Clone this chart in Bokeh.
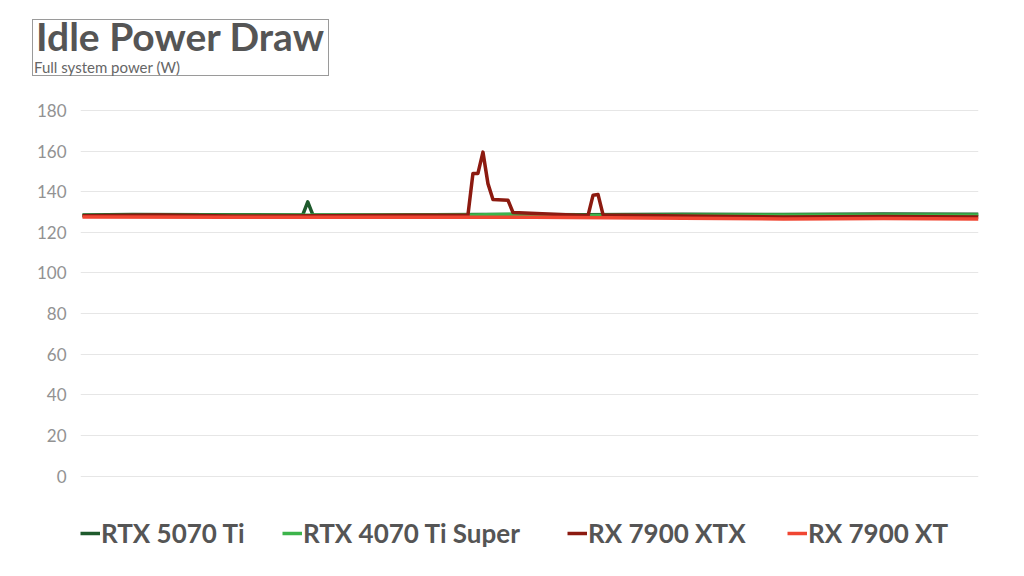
from bokeh.plotting import figure
from bokeh.models import Range1d, Legend, LegendItem, FixedTicker, Div
from bokeh.layouts import column
from bokeh.embed import file_html
from bokeh.resources import INLINE

# ---- data (sample index, watts) ----
series_names = ["RTX 5070 Ti", "RTX 4070 Ti Super", "RX 7900 XTX", "RX 7900 XT"]
series_colors = ["#1e5a2c", "#3cb44b", "#8c1a10", "#f04632"]

rtx5070ti_t = [0, 10, 25, 44, 45, 46, 60, 80, 100, 120, 140, 160, 179]
rtx5070ti_w = [128.6, 128.8, 128.7, 128.6, 135.0, 128.7, 128.6, 128.8, 128.7, 128.9, 128.8, 129.0, 128.9]

rtx4070tis_t = [0, 40, 78, 86, 100, 130, 179]
rtx4070tis_w = [128.3, 128.4, 128.6, 128.9, 128.3, 128.5, 128.6]

rx7900xtx_t = [0, 15, 30, 50, 65, 77, 78, 79, 80, 81, 82, 85, 86, 100, 101, 102, 103, 104, 120, 140, 160, 179]
rx7900xtx_w = [128.2, 128.5, 128.0, 128.2, 128.4, 128.4, 149.0, 149.0, 159.5, 144.0, 136.2, 135.8, 129.8,
               128.3, 128.3, 138.3, 138.6, 128.6, 128.0, 127.6, 127.8, 127.6]

rx7900xt_t = [0, 30, 60, 90, 120, 140, 160, 179]
rx7900xt_w = [127.6, 127.4, 127.5, 127.4, 127.0, 126.6, 126.8, 126.6]

y_ticks = [0, 20, 40, 60, 80, 100, 120, 140, 160, 180]

title_text = "Idle Power Draw"
subtitle_text = "Full system power (W)"

W = 1024

# ---- title block (HTML text) ----
title_html = (
    '<div style="position:relative;width:1024px;height:90px;background:white;">'
    '<div style="position:absolute;left:32px;top:19px;width:297px;height:57px;'
    'border:1px solid #9a9a9a;"></div>'
    '<div style="position:absolute;left:36px;top:17px;font-family:Lato;font-weight:bold;'
    'font-size:39px;line-height:39px;color:#555555;white-space:nowrap;">' + title_text + '</div>'
    '<div style="position:absolute;left:34px;top:60px;font-family:Lato;'
    'font-size:15px;line-height:15px;color:#666666;white-space:nowrap;">' + subtitle_text + '</div>'
    '</div>'
)
title_div = Div(text=title_html, width=W, height=90, margin=0)

# ---- main chart ----
p = figure(width=W, height=486, output_backend="svg", toolbar_location=None,
           x_range=Range1d(-0.4, 179), y_range=Range1d(-46.5, 184.93),
           min_border_left=80, min_border_right=46, min_border_top=10, min_border_bottom=6,
           margin=0)
p.outline_line_color = None
p.background_fill_color = "white"
p.border_fill_color = "white"
p.xaxis.visible = False
p.xgrid.visible = False
p.ygrid.grid_line_color = "#e6e6e6"
p.ygrid.grid_line_width = 1
p.yaxis.ticker = FixedTicker(ticks=y_ticks)
p.yaxis.axis_line_color = None
p.yaxis.major_tick_line_color = None
p.yaxis.minor_tick_line_color = None
p.yaxis.major_tick_out = 0
p.yaxis.major_tick_in = 0
p.yaxis.major_label_standoff = 14
p.yaxis.major_label_text_font = "Lato"
p.yaxis.major_label_text_font_size = "17px"
p.yaxis.major_label_text_color = "#929292"

data = [(rtx5070ti_t, rtx5070ti_w), (rtx4070tis_t, rtx4070tis_w),
        (rx7900xtx_t, rx7900xtx_w), (rx7900xt_t, rx7900xt_w)]
renderers = []
for (t, w), c in zip(data, series_colors):
    renderers.append(p.line(t, w, line_color=c, line_width=3.5, line_join="round"))

legend_x = [0, 202, 487, 707]
for name, r, lx in zip(series_names, renderers, legend_x):
    lg = Legend(items=[LegendItem(label=name, renderers=[r])], location=(lx, 21),
                orientation="horizontal", padding=0, margin=0, spacing=0,
                glyph_width=20, glyph_height=22, label_standoff=1,
                label_text_font="Lato", label_text_font_style="bold",
                label_text_font_size="26px", label_text_color="#555555",
                border_line_color=None, background_fill_alpha=0)
    p.add_layout(lg, "center")

layout = column(title_div, p, spacing=0)
open("out.html", "w").write(file_html(layout, INLINE))
